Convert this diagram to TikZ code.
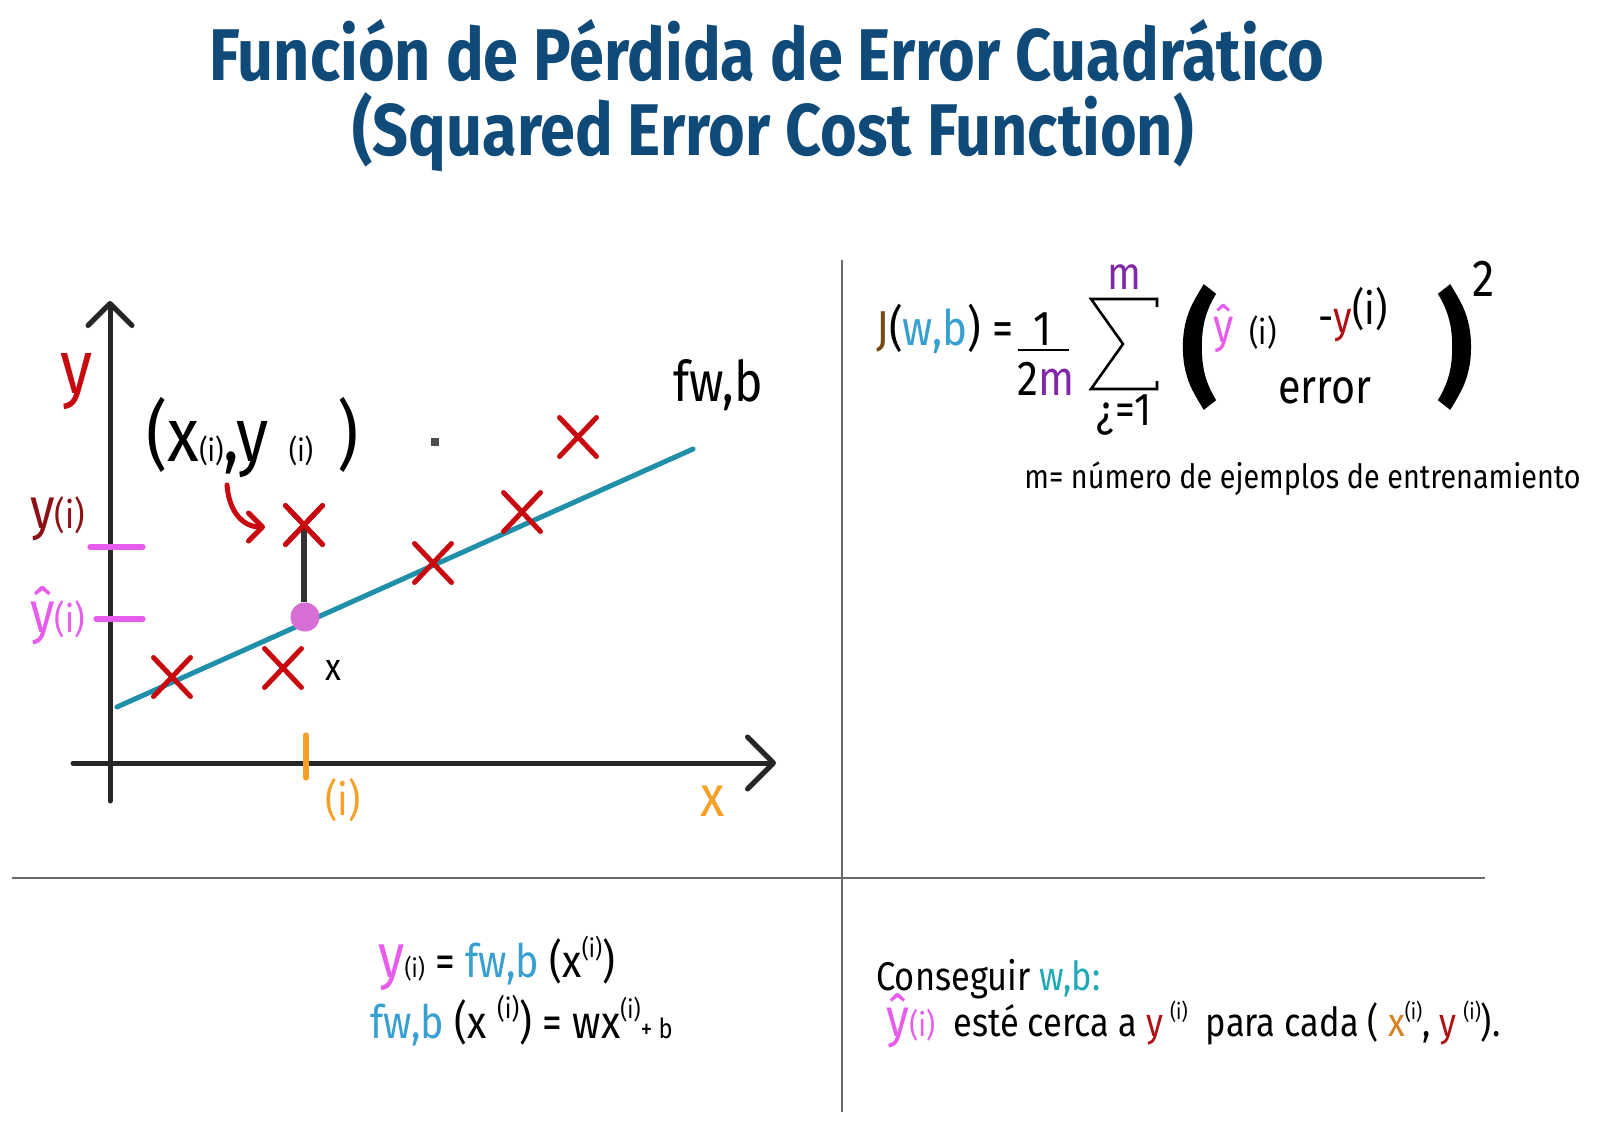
\documentclass[tikz,border=0pt]{standalone}
\usepackage{fontspec}
\setmainfont{Fira Sans}[FakeStretch=0.86]
\newfontfamily\parenfont{Fira Sans}[FakeStretch=0.86, BoldFeatures={FakeBold=2}]
\usetikzlibrary{arrows.meta, positioning, shapes.misc}
\definecolor{titleblue}{RGB}{16,74,120}
\definecolor{crossred}{RGB}{200,10,16}
\definecolor{yred}{RGB}{176,16,20}
\definecolor{darkred}{RGB}{140,16,20}
\definecolor{lineteal}{RGB}{32,144,170}
\definecolor{hatpink}{RGB}{232,92,236}
\definecolor{dotpink}{RGB}{214,110,214}
\definecolor{tickorange}{RGB}{246,160,40}
\definecolor{xorange}{RGB}{214,130,30}
\definecolor{wbblue}{RGB}{56,160,208}
\definecolor{wbteal}{RGB}{30,168,184}
\definecolor{mpurple}{RGB}{128,40,168}
\definecolor{jbrown}{RGB}{120,74,20}
\definecolor{rulegray}{RGB}{105,105,105}
\newcommand{\fsz}[1]{\fontsize{#1}{#1}\selectfont}
\newcommand{\loi}[1][.6]{\scalebox{#1}{(i)}}
\newcommand{\upi}[1][.55]{\raisebox{.42em}{\scalebox{#1}{(i)}}}

\begin{document}
\begin{tikzpicture}[x=0.5pt, y=-0.5pt,
  txt/.style={anchor=base, inner sep=0pt},
  titletxt/.style={txt, font=\fsz{36.6}\bfseries, text=titleblue},
  axis/.style={line width=2.5pt, draw=black!85, line cap=round},
  datapt/.style={cross out, draw=crossred, line width=2.5pt, line cap=round,
                 minimum width=16pt, minimum height=17pt, inner sep=0pt},
  tickmark/.style={line width=2.6pt, line cap=round},
  rule/.style={draw=rulegray, line width=0.8pt},
  barb/.style={-{Straight Barb[length=#1, width=2*#1, round]}}
]
\path[use as bounding box, fill=white] (0,0) rectangle (1600,1120);

\node[titletxt] (title1) at (767,80)  {Función de Pérdida de Error Cuadrático};
\node[titletxt] (title2) at (773,155) {(Squared Error Cost Function)};

\draw[rule] (842,260) -- (842,1112);
\draw[rule] (12,878) -- (1485,878);

% chart
\coordinate (ybot)   at (110,801);
\coordinate (ytop)   at (110,301);
\coordinate (xleft)  at (73,763);
\coordinate (xright) at (776,763);
\coordinate (fstart) at (117,707);
\coordinate (fend)   at (693,449);
\draw[axis, barb=11pt] (ybot) -- (ytop);
\draw[axis, barb=13pt] (xleft) -- (xright);
\draw[tickmark, hatpink] (90,547) -- (143,547);
\draw[tickmark, hatpink] (96,619) -- (143,619);
\draw[tickmark, tickorange] (306,735) -- (306,778);
\draw[line width=2.5pt, lineteal, line cap=round] (fstart) -- (fend);

\foreach \px/\py [count=\k] in {172/677, 283/668, 304/525, 433/563, 522/512, 578/437}
  \node[datapt] (p\k) at (\px,\py) {};
\node[circle, fill=dotpink, minimum size=14.5pt, inner sep=0pt] (dot) at (305,617) {};
\draw[line width=3pt, black!80] (p3.center) -- (p3.center |- dot.north);
\node[datapt] at (p3) {};

\coordinate (arrtail) at (227,485);
\coordinate (arrtip)  at (265,527);
\draw[line width=2.5pt, crossred, line cap=round, barb=7pt]
  (arrtail) .. controls (229,512) and (243,527) .. (arrtip);

\node[txt, font=\fsz{38}, text=crossred] (ybig) at (77,393) {y};
\node[txt, font=\fsz{28}] (fwb) at (718,401) {fw,b};
\node[txt, anchor=base west, font=\fsz{38}] (pair) at (146,461)
  {(x\loi[.4],y\hspace{10pt}\loi[.4]\hspace{12pt})};
\node[fill=black!70, minimum size=4pt, inner sep=0pt] (speck) at (435,442) {};
\node[txt, anchor=base west, font=\fsz{29}, text=darkred] (yi) at (30,528) {y\loi[.65]};
\node[txt, anchor=base west, font=\fsz{29}, text=hatpink] (yhati) at (30,632) {ŷ\loi[.65]};
\node[txt, font=\fsz{22}, text=tickorange] (ilab) at (343,815) {(i)};
\node[txt, font=\fsz{29}, text=tickorange] (xlab) at (713,816) {x};
\node[txt, font=\fsz{19}] (xsmall) at (333,680) {x};

% cost function
\node[txt, anchor=base west, font=\fsz{24.5}] (jwb) at (876,345)
  {\textcolor{jbrown}{J}(\textcolor{wbblue}{w,b}) =};
\node[txt, font=\fsz{24.5}] (one) at (1043,345) {1};
\node[txt, font=\fsz{24.5}] (twom) at (1046,395) {2\textcolor{mpurple}{m}};
\draw[line width=1pt] (1018,350) -- (1069,350);
\draw[line width=1.3pt, line join=miter]
  (1157,307) -- (1157,299) -- (1091,299) -- (1123,344) -- (1091,389) -- (1157,389) -- (1157,381);
\node[txt, font=\fsz{23}, text=mpurple] (mtop) at (1124,289) {m};
\node[txt, font=\fsz{23}] (ibot) at (1124,425) {¿=1};
\node[inner sep=0pt, font=\fsz{60}\parenfont\bfseries] (lpar) at (1199,347) {(};
\node[inner sep=0pt, font=\fsz{60}\parenfont\bfseries] (rpar) at (1455,347) {)};
\node[txt, font=\fsz{24}, text=hatpink] (yhat) at (1224,342) {ŷ};
\node[txt, font=\fsz{17}] (yhatidx) at (1263,344) {(i)};
\node[txt, anchor=base west, font=\fsz{22}] (ytrue) at (1318,332)
  {-\textcolor{yred}{y}\raisebox{4pt}{(i)}};
\node[txt, font=\fsz{24}] (err) at (1325,403) {error};
\node[txt, font=\fsz{26}] (sq) at (1484,296) {2};
\node[txt, anchor=base west, font=\fsz{16.7}] (mdef) at (1024,488)
  {m= número de ejemplos de entrenamiento};

% model
\node[txt, anchor=base west, font=\fsz{23}] (model1) at (378,977)
  {\textcolor{hatpink}{\fsz{31}y}\loi[.55] = \textcolor{wbblue}{fw,b} (x\upi)};
\node[txt, anchor=base west, font=\fsz{23}] (model2) at (370,1038)
  {\textcolor{wbblue}{fw,b} (x \upi[.6]) = wx\upi\scalebox{.6}{+ b}};

% goal
\node[txt, anchor=base west, font=\fsz{20}] (goal1) at (876,990)
  {Conseguir \textcolor{wbteal}{w,b:}};
\node[txt, anchor=base west, font=\fsz{20}] (goal2) at (886,1036)
  {\textcolor{hatpink}{\fsz{27}ŷ\loi[.6]}\ \ esté cerca a \textcolor{yred}{y}\,\upi\ \ para cada ( \textcolor{xorange}{x}\upi, \textcolor{yred}{y}\,\upi).};
\end{tikzpicture}
\end{document}
